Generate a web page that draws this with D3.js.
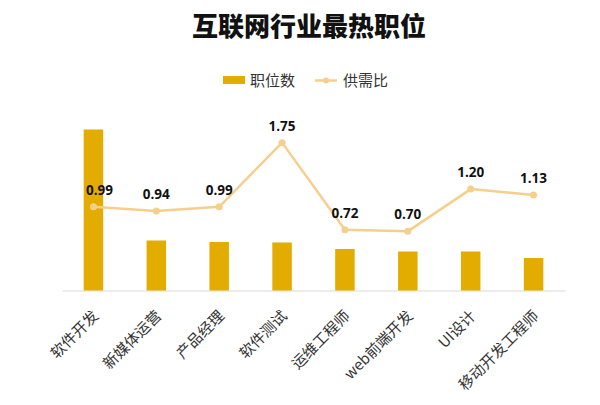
<!DOCTYPE html>
<html><head><meta charset="utf-8">
<script src="https://cdn.jsdelivr.net/npm/d3@7/dist/d3.min.js"></script>
<style>body{margin:0;background:#fff}svg{display:block}</style>
</head><body><svg id="c" width="600" height="405"></svg>
<script>
const categories = ["软件开发","新媒体运营","产品经理","软件测试","运维工程师","web前端开发","UI设计","移动开发工程师"];
const jobCounts = [3220, 1000, 970, 960, 830, 780, 780, 650];
const ratios = [0.99, 0.94, 0.99, 1.75, 0.72, 0.70, 1.20, 1.13];
const ratioLabels = ["0.99","0.94","0.99","1.75","0.72","0.70","1.20","1.13"];
const legendNames = ["职位数","供需比"];
const title = "互联网行业最热职位";

const barColor = "#E2AC00", lineColor = "#F6CF8C";
const font = "'Noto Sans CJK SC','Noto Sans',sans-serif";
const svg = d3.select("#c");

const x = d3.scaleBand().domain(categories).range([62, 565]).paddingInner(0.69).paddingOuter(0.345);
const yBar = d3.scaleLinear().domain([0, 3500]).range([290.5, 115.5]);
const yLine = d3.scaleLinear().domain([0, 2]).range([290.5, 121.5]);

svg.append("text").attr("x", 309).attr("y", 36).attr("text-anchor","middle")
  .attr("font-family", font).attr("font-weight", 900).attr("font-size", 26)
  .attr("fill", "#111").text(title);

// legend
const lg = svg.append("g");
lg.append("rect").attr("x",223).attr("y",76).attr("width",22).attr("height",8).attr("fill",barColor);
lg.append("text").attr("x",250).attr("y",85.5).attr("font-family",font).attr("font-size",15).attr("fill","#333").text(legendNames[0]);
lg.append("line").attr("x1",315).attr("x2",337).attr("y1",80.5).attr("y2",80.5).attr("stroke",lineColor).attr("stroke-width",2.5);
lg.append("circle").attr("cx",326).attr("cy",80.5).attr("r",3).attr("fill",lineColor);
lg.append("text").attr("x",343).attr("y",85.5).attr("font-family",font).attr("font-size",15).attr("fill","#333").text(legendNames[1]);

// axis line
const xAxis = d3.axisBottom(x).tickSize(0).tickFormat("");
const ax = svg.append("g").attr("transform","translate(0,290.5)").call(xAxis);
ax.select(".domain").attr("stroke","#d9d9d9").attr("stroke-width",1.2);

// bars
svg.append("g").selectAll("rect").data(categories).join("rect")
  .attr("x", d => x(d)).attr("width", x.bandwidth())
  .attr("y", (d,i) => yBar(jobCounts[i])).attr("height", (d,i) => yBar(0) - yBar(jobCounts[i]))
  .attr("fill", barColor);

// line
const cx = d => x(d) + x.bandwidth()/2;
const line = d3.line().x((d,i) => cx(categories[i])).y(d => yLine(d));
svg.append("path").datum(ratios).attr("d", line).attr("fill","none")
  .attr("stroke", lineColor).attr("stroke-width", 2.5).attr("stroke-linejoin","round");
svg.append("g").selectAll("circle").data(ratios).join("circle")
  .attr("cx", (d,i) => cx(categories[i])).attr("cy", d => yLine(d)).attr("r", 3.5).attr("fill", lineColor);

// value labels
svg.append("g").selectAll("text").data(ratios).join("text")
  .attr("x", (d,i) => cx(categories[i]) + (i === 0 ? 6 : 0))
  .attr("y", d => yLine(d) - 12)
  .attr("text-anchor","middle").attr("font-family","'Open Sans','Noto Sans',sans-serif")
  .attr("font-weight",700).attr("font-size",13.5).attr("fill","#111")
  .text((d,i) => ratioLabels[i]);

// category labels
svg.append("g").selectAll("text").data(categories).join("text")
  .attr("transform", d => `translate(${cx(d)+6},${317}) rotate(-45)`)
  .attr("text-anchor","end").attr("font-family",font).attr("font-size",15).attr("fill","#333")
  .text(d => d);
</script></body></html>
